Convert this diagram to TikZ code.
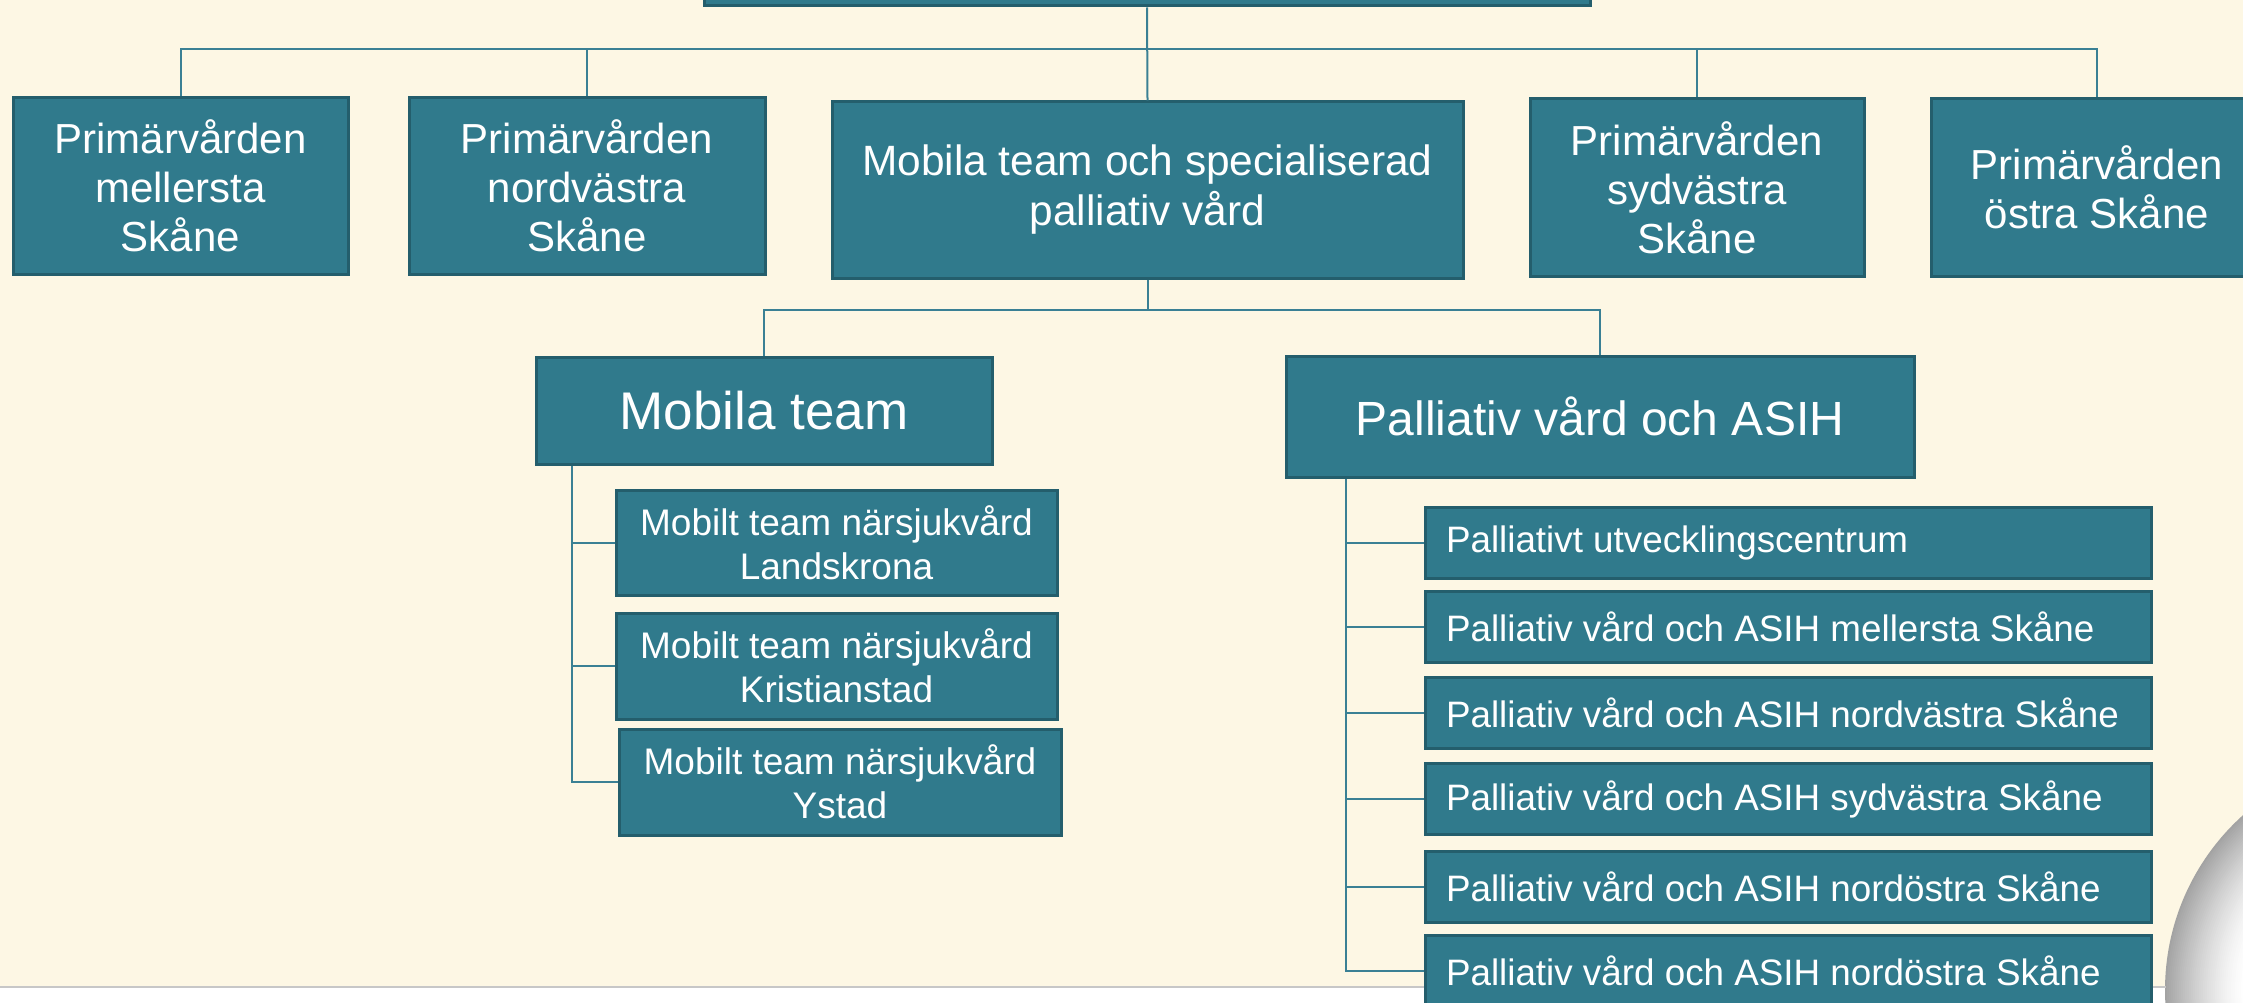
\documentclass[tikz,border=0pt]{standalone}
\usepackage{fontspec}
\setmainfont{Liberation Sans}
\definecolor{bg}{HTML}{FDF7E4}
\definecolor{boxfill}{HTML}{307A8C}
\definecolor{boxline}{HTML}{245E6C}
\definecolor{conncol}{HTML}{3A8094}
\tikzset{
  orgbox/.style={draw=boxline, line width=3pt, fill=boxfill, text=white, inner sep=0pt, align=center},
  bigtxt/.style={font=\fontsize{42pt}{49pt}\selectfont},
  subtxt/.style={font=\fontsize{37pt}{44pt}\selectfont},
  leaf/.style={orgbox, font=\fontsize{36.8pt}{44pt}\selectfont, minimum height=71pt, inner xsep=21pt},
  conn/.style={draw=conncol, line width=2pt}
}
\newcommand{\leaftext}[1]{\makebox[684pt][l]{#1}}
\begin{document}
\begin{tikzpicture}[x=1pt, y=-1pt]
\clip (0,0) rectangle (2243,1003);
\fill[white] (0,0) rectangle (2243,1003);
\fill[bg] (0,0) rectangle (2243,987);
% page curl: grey shadow fading to white
\coordinate (curlc) at (2400,990);
\foreach \k in {0,...,40} {
  \pgfmathsetmacro{\shadeval}{36*(1-\k/40)^1.4}
  \pgfmathsetmacro{\rad}{235-2*\k}
  \fill[black!\shadeval] (curlc) circle[radius=\rad pt];
}
\draw[black!22, line width=1.5pt] (0,987) -- (2166,987);

% top level
\node[orgbox, minimum width=886pt, minimum height=100pt] (top) at (1147,-44) {};
\node[orgbox, bigtxt, minimum width=335pt, minimum height=176pt] (b1) at (180.5,186) {Primärvården\\mellersta\\Skåne};
\node[orgbox, bigtxt, minimum width=356pt, minimum height=176pt] (b2) at (587,186) {Primärvården\\nordvästra\\Skåne};
\node[orgbox, font=\fontsize{42.4pt}{50pt}\selectfont, minimum width=631pt, minimum height=176pt] (b3) at (1147.5,190) {Mobila team och specialiserad\\palliativ vård};
\node[orgbox, bigtxt, minimum width=334pt, minimum height=177pt] (b4) at (1697,187.5) {Primärvården\\sydvästra\\Skåne};
\node[orgbox, bigtxt, minimum width=332pt, minimum height=177pt] (b5) at (2097,187.5) {Primärvården\\östra Skåne};

\coordinate (bus) at (0,49);
\draw[conn] (top.south) -- (b3.north);
\draw[conn] (b1.north) -- (b1.north |- bus) -- (b5.north |- bus) -- (b5.north);
\draw[conn] (b2.north) -- (b2.north |- bus);
\draw[conn] (b4.north) -- (b4.north |- bus);

% second level
\node[orgbox, font=\fontsize{53pt}{60pt}\selectfont, minimum width=456pt, minimum height=107pt] (mt) at (764,410.5) {Mobila team};
\node[orgbox, font=\fontsize{48pt}{56pt}\selectfont, minimum width=628pt, minimum height=121pt] (pv) at (1600,416.5) {Palliativ vård och ASIH};

\coordinate (sbus) at (0,310);
\draw[conn] (b3.south) -- (b3.south |- sbus);
\draw[conn] (mt.north) -- (mt.north |- sbus) -- (pv.north |- sbus) -- (pv.north);

% mobila team children
\node[orgbox, subtxt, minimum width=441pt, minimum height=105pt] (c1) at (836.5,542.5) {Mobilt team närsjukvård\\Landskrona};
\node[orgbox, subtxt, minimum width=441pt, minimum height=106pt] (c2) at (836.5,666) {Mobilt team närsjukvård\\Kristianstad};
\node[orgbox, subtxt, minimum width=442pt, minimum height=106pt] (c3) at (840,782) {Mobilt team närsjukvård\\Ystad};

\coordinate (mtx) at (572,0);
\draw[conn] (mt.south -| mtx) |- (c3.west);
\draw[conn] (c1.west) -- (c1.west -| mtx);
\draw[conn] (c2.west) -- (c2.west -| mtx);

% palliativ children
\node[leaf] (p1) at (1788,542.5) {\leaftext{Palliativt utvecklingscentrum}};
\node[leaf] (p2) at (1788,627) {\leaftext{Palliativ vård och ASIH mellersta Skåne}};
\node[leaf] (p3) at (1788,713) {\leaftext{Palliativ vård och ASIH nordvästra Skåne}};
\node[leaf] (p4) at (1788,799) {\leaftext{Palliativ vård och ASIH sydvästra Skåne}};
\node[leaf] (p5) at (1788,887) {\leaftext{Palliativ vård och ASIH nordöstra Skåne}};
\node[leaf] (p6) at (1788,971) {\leaftext{Palliativ vård och ASIH nordöstra Skåne}};

\coordinate (pvx) at (1346,0);
\draw[conn] (pv.south -| pvx) |- (p6.west);
\foreach \k in {1,...,5} {\draw[conn] (p\k.west) -- (p\k.west -| pvx);}
\end{tikzpicture}
\end{document}
